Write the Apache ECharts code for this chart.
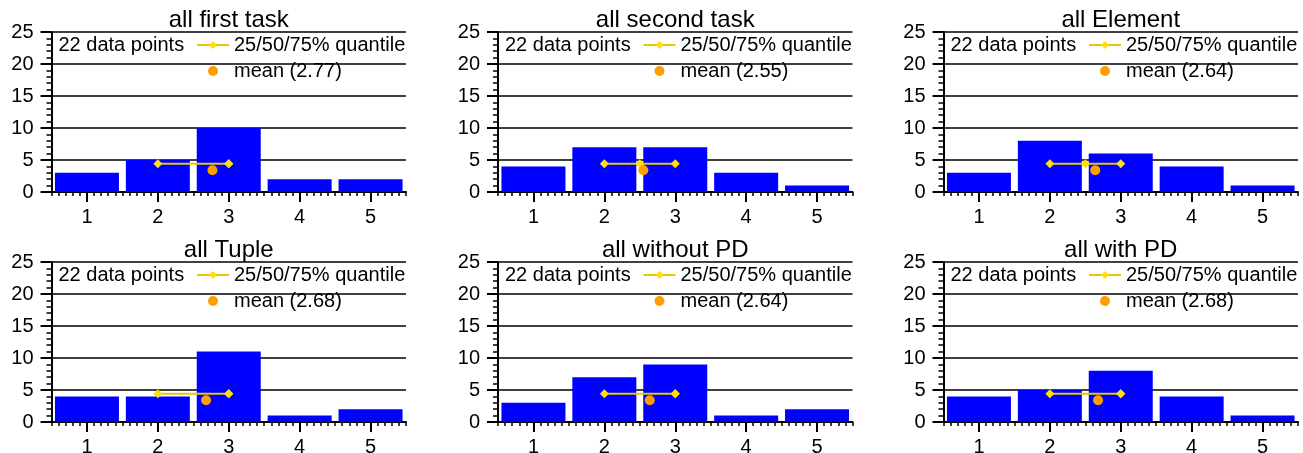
<!DOCTYPE html>
<html>
<head>
<meta charset="utf-8">
<script src="https://cdn.jsdelivr.net/npm/echarts@6/dist/echarts.min.js"></script>
<style>
  html, body { margin: 0; padding: 0; background: #fff; }
  #chart { width: 1303px; height: 453px; }
</style>
</head>
<body>
<div id="chart"></div>
<script>
// Rating histograms (answers 1..5) for six groupings of the same 22 responses
const panelTitles = ['all first task', 'all second task', 'all Element',
                     'all Tuple', 'all without PD', 'all with PD'];
const ratings = [1, 2, 3, 4, 5];
const firstTask  = [3, 5, 10, 2, 2];
const secondTask = [4, 7, 7, 3, 1];
const element    = [3, 8, 6, 4, 1];
const tuple      = [4, 4, 11, 1, 2];
const withoutPD  = [3, 7, 9, 1, 2];
const withPD     = [4, 5, 8, 4, 1];
const counts = [firstTask, secondTask, element, tuple, withoutPD, withPD];
// 25% / 50% / 75% quantiles of each grouping
const quantiles = [[2, 3, 3], [2, 2.5, 3], [2, 2.5, 3], [2, 3, 3], [2, 3, 3], [2, 3, 3]];
const means = [2.77, 2.55, 2.64, 2.68, 2.64, 2.68];
// heights at which the summary markers are drawn
const quantileLevel = 4.4;
const meanLevel = 3.4;
const yTickValues = [0, 5, 10, 15, 20, 25];

const FONT = '"Liberation Sans", Arial, Helvetica, sans-serif';
const gridLefts = [51.5, 498, 943.5];
const gridTops = [32, 262];
const gridW = 354.5, gridH = 160;
const QUANT_NAME = '25/50/75% quantile';

const grid = [], xAxis = [], yAxis = [], series = [], legend = [], graphic = [];

counts.forEach((vals, i) => {
  const col = i % 3, row = Math.floor(i / 3);
  const left = gridLefts[col], top = gridTops[row];
  grid.push({ left: left, top: top, width: gridW, height: gridH,
              containLabel: false, outerBoundsMode: 'none' });

  // main x axis: line, integer ticks and labels, 0.1 minor ticks
  xAxis.push({
    gridIndex: i, type: 'value', position: 'bottom',
    min: 0.5, max: 5.5, interval: 0.5,
    axisLine: { show: true, onZero: false, lineStyle: { color: '#000', width: 2 } },
    axisTick: { show: true, customValues: ratings, length: 10, lineStyle: { color: '#000', width: 2 } },
    minorTick: { show: true, splitNumber: 5, length: 4, lineStyle: { color: '#000', width: 1.5 } },
    axisLabel: { customValues: ratings, margin: 15, fontSize: 20, color: '#000', fontFamily: FONT },
    splitLine: { show: false }
  });
  // short ticks on the half steps
  xAxis.push({
    gridIndex: i, type: 'value', position: 'bottom',
    min: 0.5, max: 5.5, interval: 0.5,
    axisLine: { show: false, onZero: false },
    axisTick: { show: true, length: 4, lineStyle: { color: '#000', width: 1.5 } },
    axisLabel: { show: false },
    splitLine: { show: false }
  });

  yAxis.push({
    gridIndex: i, type: 'value', min: yTickValues[0], max: yTickValues[yTickValues.length - 1], interval: 5,
    axisLine: { show: true, lineStyle: { color: '#000', width: 2 } },
    axisTick: { show: true, length: 11, lineStyle: { color: '#000', width: 2 } },
    minorTick: { show: true, splitNumber: 5, length: 5, lineStyle: { color: '#000', width: 1.5 } },
    axisLabel: { margin: 18, fontSize: 20, color: '#000', fontFamily: FONT },
    splitLine: { show: true, lineStyle: { color: '#000', width: 1.6 } }
  });

  series.push({
    type: 'bar', xAxisIndex: 2 * i, yAxisIndex: i,
    data: ratings.map((r, k) => [r, vals[k]]),
    barWidth: 64,
    itemStyle: { color: '#0000ff' },
    silent: true
  });
  series.push({
    type: 'line', name: QUANT_NAME, xAxisIndex: 2 * i, yAxisIndex: i,
    data: quantiles[i].map(q => [q, quantileLevel]),
    symbol: 'diamond', symbolSize: 9, showAllSymbol: true,
    lineStyle: { color: '#e6c700', width: 2 },
    itemStyle: { color: '#ffe000' },
    z: 4, silent: true, animation: false
  });
  const meanName = 'mean (' + means[i].toFixed(2) + ')';
  series.push({
    type: 'scatter', name: meanName, xAxisIndex: 2 * i, yAxisIndex: i,
    data: [[means[i], meanLevel]],
    symbol: 'circle', symbolSize: 10,
    itemStyle: { color: '#ff9e00', opacity: 1 },
    z: 5, silent: true
  });

  legend.push({
    data: [QUANT_NAME, meanName],
    orient: 'vertical', left: left + 144.5, top: top + 3,
    itemWidth: 32, itemHeight: 10, itemGap: 6, padding: 0,
    selectedMode: false,
    textStyle: { fontSize: 20, color: '#000', fontFamily: FONT }
  });

  const total = vals.reduce((a, b) => a + b, 0);
  graphic.push({
    type: 'text', x: left + gridW / 2, y: top - 12,
    style: { text: panelTitles[i], align: 'center', verticalAlign: 'middle',
             font: '24px ' + FONT, fill: '#000' }
  });
  graphic.push({
    type: 'text', x: left + 7, y: top + 13,
    style: { text: total + ' data points', align: 'left', verticalAlign: 'middle',
             font: '20px ' + FONT, fill: '#000' }
  });
});

const chart = echarts.init(document.getElementById('chart'), null, { renderer: 'canvas' });
chart.setOption({
  animation: false,
  backgroundColor: '#fff',
  grid, xAxis, yAxis, series, legend, graphic
});
</script>
</body>
</html>
